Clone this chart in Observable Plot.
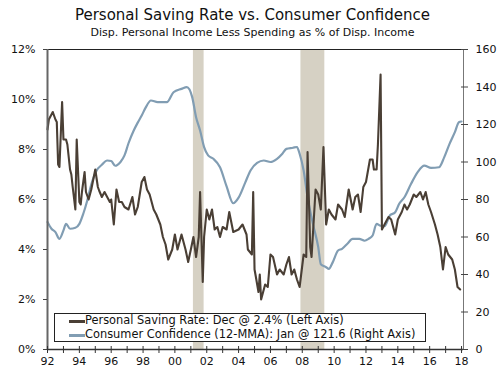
<!DOCTYPE html>
<html>
<head>
<meta charset="utf-8">
<script src="https://cdn.jsdelivr.net/npm/d3@7"></script>
<script src="https://cdn.jsdelivr.net/npm/@observablehq/plot@0.6"></script>
<style>
  html, body { margin: 0; padding: 0; background: #fff; }
  #wrap { position: relative; width: 500px; height: 378px; font-family: "DejaVu Sans", Verdana, sans-serif; color: #111; }
  #title { position: absolute; top: 6px; left: 0; width: 505px; text-align: center; font-size: 15px; line-height: 18px; }
  #subtitle { position: absolute; top: 26px; left: 0; width: 505px; text-align: center; font-size: 11px; line-height: 14px; }
  #chart { position: absolute; top: 40px; left: 0; }
  #legend { position: absolute; left: 54px; top: 313px; width: 372px; height: 29px; border: 1px solid #222; background: #fff; font-size: 11.4px; line-height: 14px; box-sizing: border-box; padding-top: 0px; }
  .row { position: relative; height: 14px; white-space: nowrap; }
  .sw { position: absolute; left: 14px; top: 6px; width: 16px; height: 3px; }
  .lt { position: absolute; left: 30px; top: -1px; }
</style>
</head>
<body>
<div id="wrap">
  <div id="title">Personal Saving Rate vs. Consumer Confidence</div>
  <div id="subtitle">Disp. Personal Income Less Spending as % of Disp. Income</div>
  <div id="chart"></div>
  <div id="legend"></div>
</div>
<script>
// ---- Data ----
const savingMonths = ["1992-01","1992-02","1992-04","1992-05","1992-07","1992-08","1992-09","1992-10","1992-12",
"1993-01","1993-03","1993-04","1993-06","1993-07","1993-08","1993-10","1993-11",
"1994-01","1994-02","1994-03","1994-05","1994-06","1994-08","1994-10",
"1995-01","1995-03","1995-04","1995-06","1995-08","1995-10","1995-12",
"1996-01","1996-03","1996-05","1996-07","1996-09","1996-11",
"1997-02","1997-05","1997-07","1997-09","1997-12",
"1998-02","1998-04","1998-06","1998-09","1998-11",
"1999-02","1999-04","1999-06","1999-08","1999-11",
"2000-01","2000-03","2000-06","2000-09","2000-11",
"2001-01","2001-03","2001-05","2001-07","2001-08","2001-10","2001-11",
"2002-01","2002-03","2002-05","2002-07","2002-09","2002-11",
"2003-01","2003-04","2003-06","2003-09",
"2004-01","2004-04","2004-07","2004-08","2004-11","2004-12",
"2005-01","2005-02","2005-04","2005-05","2005-06","2005-09","2005-11",
"2006-01","2006-03","2006-06","2006-08","2006-11",
"2007-01","2007-03","2007-05","2007-07","2007-09","2007-11",
"2008-02","2008-04","2008-05","2008-07","2008-08","2008-11",
"2009-01","2009-03","2009-05","2009-07","2009-09","2009-11",
"2010-02","2010-04","2010-07","2010-09","2010-12",
"2011-03","2011-05","2011-07","2011-09","2011-11",
"2012-01","2012-04","2012-06","2012-07","2012-09","2012-10","2012-12",
"2013-01","2013-03","2013-06","2013-08","2013-11",
"2014-01","2014-04","2014-06","2014-08","2014-10",
"2015-01","2015-03","2015-06","2015-08","2015-10","2015-12",
"2016-02","2016-05","2016-07","2016-09","2016-11",
"2017-01","2017-03","2017-06","2017-08","2017-10","2017-12"];
const savingRate = [8.8,9.2,9.4,9.5,9.2,9.1,7.4,7.3,9.9,
8.4,8.4,8.2,7.2,7.0,6.5,5.6,8.4,
5.9,5.8,6.3,7.1,6.3,6.0,6.4,
7.2,6.5,6.35,6.1,6.3,6.1,5.9,
6.0,5.0,6.4,5.9,5.9,5.7,
5.6,6.1,5.4,5.7,6.7,
6.9,6.4,6.2,5.6,5.4,
5.0,4.5,4.2,3.6,4.0,
4.6,4.0,4.6,4.0,3.5,
4.0,4.5,3.7,4.5,6.3,2.7,4.5,
5.6,5.2,5.6,4.8,4.9,4.5,
4.9,4.8,5.5,4.7,
4.8,5.0,4.6,4.0,3.8,6.3,
3.2,2.9,2.3,3.0,2.0,2.6,2.5,
3.8,3.7,3.0,3.2,3.0,
3.4,3.7,3.0,3.2,2.8,2.5,
3.8,3.7,7.9,4.1,3.7,6.4,
6.2,5.6,8.1,5.0,5.6,5.4,
5.2,5.8,5.6,5.3,6.4,
5.6,6.1,6.2,5.5,6.5,
6.7,7.6,7.6,7.2,7.2,8.2,11.0,
4.8,5.0,5.3,5.2,4.6,
5.2,5.5,5.8,5.6,5.8,
6.2,6.1,6.3,6.0,6.3,5.8,
5.5,5.0,4.6,4.1,3.2,
4.1,3.8,3.6,3.2,2.5,2.4];

const confMonths = ["1992-01","1992-04","1992-07","1992-10","1993-01","1993-03","1993-06","1993-10",
"1994-01","1994-04","1994-07","1994-10","1995-02","1995-06","1995-10","1996-01","1996-04","1996-08","1996-11",
"1997-02","1997-06","1997-09","1997-12","1998-03","1998-07","1998-12","1999-07","1999-12",
"2000-06","2000-10","2001-02","2001-05","2001-08","2001-11","2002-02","2002-06","2002-11",
"2003-04","2003-09","2004-01","2004-06","2004-10","2005-03","2005-08","2006-01","2006-06","2006-10",
"2007-01","2007-06","2007-09","2007-11","2008-02","2008-05","2008-09","2009-01","2009-03","2009-07","2009-09","2009-12",
"2010-04","2010-07","2010-11","2011-03","2011-08","2011-12","2012-03","2012-06","2012-09","2012-12",
"2013-03","2013-07","2013-11","2014-02","2014-06","2014-11","2015-04","2015-09","2016-02","2016-08","2016-12",
"2017-04","2017-08","2017-11","2018-01"];
const confidence = [68,64.4,62.6,59,63.5,67,64.4,64.9,
67,72.4,79.5,88,95.5,98.5,100.8,100.5,98,100,103.5,
110,116.8,121,124.8,129,132.8,131.9,131.9,137.2,
139,139.9,134.6,123.9,116.8,107.9,103.5,101.7,97.2,
87,78,81,89,95.5,99.5,100.8,100,101.7,104.4,
107,107.6,108,104.4,95.5,81.2,67,54.6,45.5,43.9,43,46.6,
52.8,53.7,56.4,59,59,58,59,60.8,67,66,
65.8,71.5,73.2,77.7,81.2,88.4,94.6,98.1,96.9,97.2,102.6,
109.7,115.9,121.2,121.6];

const recessionStart = ["2001-03","2007-12"];
const recessionEnd = ["2001-11","2009-06"];

const leftTicks = [0,2,4,6,8,10,12];
const rightTicks = [0,20,40,60,80,100,120,140,160];

// ---- Build tables ----
const parse = d3.utcParse("%Y-%m");
const saving = savingMonths.map((m,i) => ({date: parse(m), value: savingRate[i]}));
const conf = confMonths.map((m,i) => ({date: parse(m), value: confidence[i]}));
const recessions = recessionStart.map((s,i) => ({start: parse(s), end: parse(recessionEnd[i])}));
const toLeft = v => v * 12 / 160;

const xStart = new Date(Date.UTC(1992,0,1));
const xEnd = new Date(Date.UTC(2018,1,15));
const years = d3.utcYear.range(xStart, new Date(Date.UTC(2018,0,2)));

const colSave = "#4a3f35";
const colConf = "#819db3";
const blank = () => "";

const chart = Plot.plot({
  width: 500,
  height: 338,
  marginTop: 9,
  marginBottom: 29,
  marginLeft: 47,
  marginRight: 37,
  style: {fontFamily: "DejaVu Sans, Verdana, sans-serif", fontSize: "11px", color: "#111", background: "#fff"},
  x: {type: "utc", domain: [xStart, xEnd]},
  y: {domain: [0, 12]},
  marks: [
    Plot.rect(recessions, {x1: "start", x2: "end", y1: 0, y2: 12, fill: "#d6d1c4"}),
    Plot.lineY(conf, {x: "date", y: d => toLeft(d.value), stroke: colConf, strokeWidth: 2.2, curve: "monotone-x"}),
    Plot.lineY(saving, {x: "date", y: "value", stroke: colSave, strokeWidth: 2.1, strokeLinejoin: "round"}),
    Plot.ruleY([12], {stroke: "#222", strokeWidth: 1}),
    Plot.ruleY([0], {stroke: "#333", strokeWidth: 1.5}),
    Plot.ruleX([xStart], {stroke: "#666", strokeWidth: 2}),
    Plot.ruleX([xEnd], {stroke: "#777", strokeWidth: 1}),
    Plot.axisY({anchor: "left", ticks: leftTicks, tickFormat: d => d + "%", tickSize: 4, tickPadding: 8, stroke: "#444", label: null}),
    Plot.axisY({anchor: "right", ticks: rightTicks.map(toLeft), tickFormat: d => String(Math.round(d * 160 / 12)), tickSize: 4, tickPadding: 8, stroke: "#444", label: null}),
    Plot.axisY({anchor: "right", ticks: rightTicks.map(toLeft), tickFormat: blank, tickSize: -3, stroke: "#444", label: null}),
    Plot.axisX({ticks: years, tickFormat: d => d.getUTCFullYear() % 2 === 0 ? d3.utcFormat("%y")(d) : "", tickSize: 4, tickPadding: 4, stroke: "#333", label: null}),
    Plot.axisX({ticks: years, tickFormat: blank, tickSize: -3, stroke: "#333", label: null})
  ]
});
document.getElementById("chart").appendChild(chart);

// ---- Legend ----
const legendItems = [
  {label: "Personal Saving Rate: Dec @ 2.4% (Left Axis)", color: colSave},
  {label: "Consumer Confidence (12-MMA): Jan @ 121.6 (Right Axis)", color: colConf}
];
const lg = document.getElementById("legend");
legendItems.forEach(it => {
  const r = document.createElement("div");
  r.className = "row";
  r.innerHTML = `<span class="sw" style="background:${it.color}"></span><span class="lt">${it.label}</span>`;
  lg.appendChild(r);
});
</script>
</body>
</html>
